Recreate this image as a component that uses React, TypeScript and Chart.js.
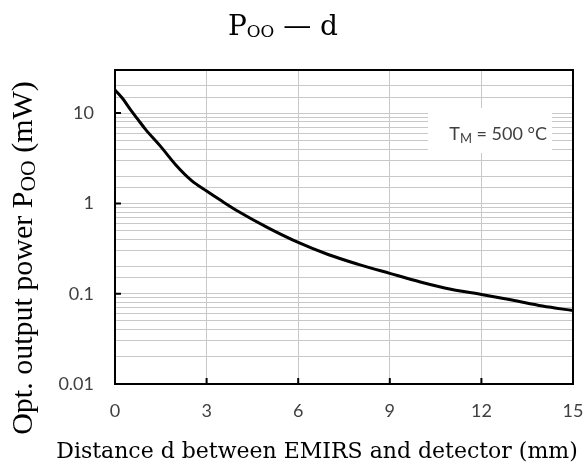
import React, { useEffect, useRef } from 'react';
import { Chart, registerables } from 'chart.js';

Chart.register(...registerables);

// ---- data ----
const distance = [0, 0.25, 0.5, 0.75, 1, 1.5, 2, 2.5, 3, 3.5, 4, 5, 6, 7, 8, 9, 10, 11, 12, 13, 14, 15];
const power = [18, 14.5, 11, 8.5, 6.6, 4.25, 2.65, 1.8, 1.37, 1.06, 0.83, 0.54, 0.37, 0.27, 0.21, 0.168, 0.135, 0.112, 0.098, 0.085, 0.073, 0.065];

const xTickValues = [0, 3, 6, 9, 12, 15];
const yTickValues = [0.01, 0.1, 1, 10];
const yTickLabels = ['0.01', '0.1', '1', '10'];

const titleParts: [string, boolean][] = [['P', false], ['OO', true], [' — d', false]];
const yTitleParts: [string, boolean][] = [['Opt. output power P', false], ['OO', true], [' (mW)', false]];
const xTitle = 'Distance d between EMIRS and detector (mm)';
const noteParts: [string, boolean][] = [['T', false], ['M', true], [' = 500 °C', false]];

const TICK_FONT = 'Lato';
const SERIF = 'DejaVu Serif';
const TIMES = 'Liberation Serif';

function richWidth(ctx: CanvasRenderingContext2D, parts: [string, boolean][], size: number, family: string, subScale: number) {
  let w = 0;
  for (const [t, sub] of parts) {
    ctx.font = `${sub ? size * subScale : size}px "${family}"`;
    w += ctx.measureText(t).width;
  }
  return w;
}

function drawRich(ctx: CanvasRenderingContext2D, parts: [string, boolean][], size: number, family: string, x: number, y: number, align: 'center' | 'right' | 'left', subScale = 0.7, subShift = 0.12) {
  const w = richWidth(ctx, parts, size, family, subScale);
  let cx = align === 'center' ? x - w / 2 : align === 'right' ? x - w : x;
  ctx.textAlign = 'left';
  ctx.textBaseline = 'alphabetic';
  for (const [t, sub] of parts) {
    ctx.font = `${sub ? size * subScale : size}px "${family}"`;
    ctx.fillText(t, cx, y + (sub ? size * subShift : 0));
    cx += ctx.measureText(t).width;
  }
}

const decorPlugin = {
  id: 'decor',
  beforeDatasetsDraw(chart: any) {
    const { ctx, chartArea: a } = chart;
    ctx.save();
    // white note box covering the grid
    ctx.fillStyle = '#ffffff';
    ctx.fillRect(a.right - 145, a.top + 38, 124, 45);
    ctx.fillStyle = '#404040';
    drawRich(ctx, noteParts, 18, TICK_FONT, a.right - 26, a.top + 70, 'right', 0.72, 0.18);
    ctx.restore();
  },
  afterDraw(chart: any) {
    const { ctx, chartArea: a, scales } = chart;
    const xs = scales.x;
    const ys = scales.y;
    ctx.save();
    ctx.strokeStyle = '#000000';
    ctx.lineWidth = 2;
    ctx.strokeRect(a.left, a.top, a.right - a.left, a.bottom - a.top);
    // inward tick marks
    ctx.beginPath();
    for (const v of yTickValues) {
      const py = ys.getPixelForValue(v);
      if (py < a.bottom - 1) {
        ctx.moveTo(a.left, py);
        ctx.lineTo(a.left + 6, py);
      }
    }
    for (const v of xTickValues) {
      if (v === xs.min || v === xs.max) continue;
      const px = xs.getPixelForValue(v);
      ctx.moveTo(px, a.bottom);
      ctx.lineTo(px, a.bottom - 6);
    }
    ctx.stroke();

    ctx.fillStyle = '#000000';
    // title
    drawRich(ctx, titleParts, 28, SERIF, 283, 35, 'center', 0.6, 0.06);
    // x title
    ctx.font = `22px "${SERIF}"`;
    ctx.textAlign = 'center';
    ctx.textBaseline = 'alphabetic';
    ctx.fillText(xTitle, 317, 458);
    // y title
    ctx.translate(32, 258);
    ctx.rotate(-Math.PI / 2);
    drawRich(ctx, yTitleParts, 30, TIMES, 0, 0, 'center', 0.72, 0.1);
    ctx.restore();
  },
};

export default function App() {
  const ref = useRef<HTMLCanvasElement | null>(null);
  useEffect(() => {
    if (!ref.current) return;
    const chart = new Chart(ref.current, {
      type: 'line',
      data: {
        datasets: [
          {
            data: distance.map((d, i) => ({ x: d, y: power[i] })),
            borderColor: '#000000',
            borderWidth: 3,
            pointRadius: 0,
            cubicInterpolationMode: 'monotone',
            fill: false,
          },
        ],
      },
      options: {
        responsive: false,
        animation: false,
        layout: { padding: { left: 55, top: 70, right: 12, bottom: 36 } },
        plugins: { legend: { display: false }, tooltip: { enabled: false }, title: { display: false } },
        scales: {
          x: {
            type: 'linear',
            min: 0,
            max: 15,
            afterFit: (s: any) => { s.height = 45; s.paddingLeft = 0; s.paddingRight = 0; },
            grid: { color: '#c8c8c8', lineWidth: 1, drawTicks: false },
            border: { display: false },
            ticks: {
              stepSize: 3,
              padding: 16,
              maxRotation: 0,
              color: '#404040',
              font: { family: TICK_FONT, size: 18 },
            },
          },
          y: {
            type: 'logarithmic',
            min: 0.01,
            max: 30,
            afterFit: (s: any) => { s.width = 60; s.paddingTop = 0; s.paddingBottom = 0; },
            grid: { color: '#c8c8c8', lineWidth: 1, drawTicks: false },
            border: { display: false },
            ticks: {
              autoSkip: false,
              padding: 21,
              color: '#404040',
              font: { family: TICK_FONT, size: 18 },
              callback: (value: any) => {
                const v = Number(value);
                const i = yTickValues.findIndex((t) => Math.abs(Math.log10(t) - Math.log10(v)) < 1e-6);
                return i >= 0 ? yTickLabels[i] : '';
              },
            },
          },
        },
      },
      plugins: [decorPlugin],
    } as any);
    return () => chart.destroy();
  }, []);
  return (
    <div style={{ position: 'fixed', left: 0, top: 0, width: 585, height: 465, background: '#ffffff' }}>
      <canvas ref={ref} width={585} height={465} style={{ width: 585, height: 465 }} />
    </div>
  );
}
